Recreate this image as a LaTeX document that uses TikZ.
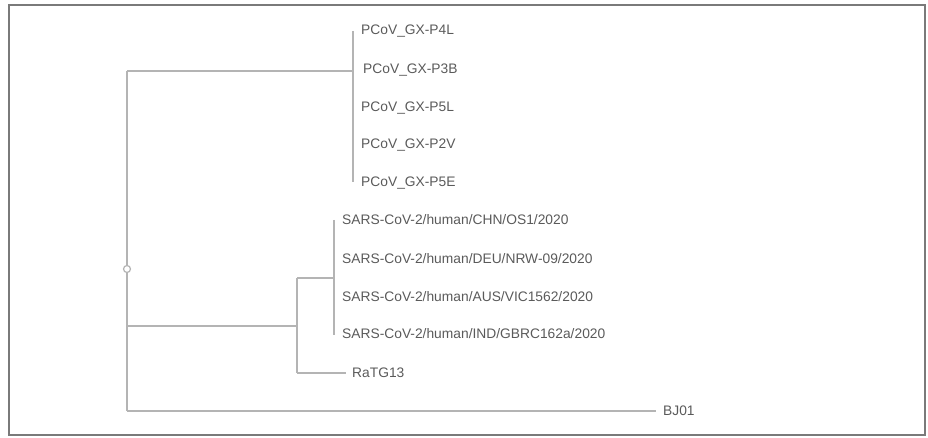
\documentclass[tikz,border=0pt]{standalone}
\usepackage{fontspec}
\setmainfont{Liberation Sans}
\definecolor{branch}{HTML}{B4B4B4}
\definecolor{txt}{HTML}{5A5A5A}
\definecolor{frame}{HTML}{7A7A7A}
\begin{document}
\begin{tikzpicture}[x=1pt,y=-1pt,
  br/.style={draw=branch,line width=1.3pt},
  leaf/.style={anchor=west,inner sep=0pt,text=txt,font=\fontsize{13.8}{15}\selectfont},
  rootdot/.style={circle,draw=branch,fill=white,line width=1.2pt,minimum size=7pt,inner sep=0pt}]
\useasboundingbox (0,0) rectangle (928,438);
\draw[frame,line width=2.2pt] (9,5) rectangle (925,435);
% coordinates
\coordinate (rtop) at (127,71);
\coordinate (rbot) at (127,411);
\coordinate (rsars) at (127,326);
\coordinate (pc) at (353,71);
\coordinate (pctop) at (353,31);
\coordinate (pcbot) at (353,182);
\coordinate (sr) at (297,326);
\coordinate (srtop) at (297,278);
\coordinate (srbot) at (297,373);
\coordinate (sc) at (334,278);
\coordinate (sctop) at (334,220);
\coordinate (scbot) at (334,335);
% leaves
\node[leaf] (p4l) at (361,31) {PCoV\_GX-P4L};
\node[leaf] (p3b) at (363,70) {PCoV\_GX-P3B};
\node[leaf] (p5l) at (361,108) {PCoV\_GX-P5L};
\node[leaf] (p2v) at (361,145) {PCoV\_GX-P2V};
\node[leaf] (p5e) at (361,183) {PCoV\_GX-P5E};
\node[leaf] (s1) at (342,220) {SARS-CoV-2/human/CHN/OS1/2020};
\node[leaf] (s2) at (342,259) {SARS-CoV-2/human/DEU/NRW-09/2020};
\node[leaf] (s3) at (342,297) {SARS-CoV-2/human/AUS/VIC1562/2020};
\node[leaf] (s4) at (342,334) {SARS-CoV-2/human/IND/GBRC162a/2020};
\node[leaf] (ratg) at (352,373) {RaTG13};
\node[leaf] (bj) at (663,411) {BJ01};
% branches
\draw[br] (rtop) -- (rbot);
\draw[br] (rtop) -- (pc);
\draw[br] (pctop) -- (pcbot);
\draw[br] (rsars) -- (sr);
\draw[br] (srtop) -- (srbot);
\draw[br] (srtop) -- (sc);
\draw[br] (sctop) -- (scbot);
\draw[br] (srbot) -- ([xshift=-6pt]ratg.west);
\draw[br] (rbot) -- ([xshift=-7pt]bj.west);
\node[rootdot] (root) at (127,269) {};
\end{tikzpicture}
\end{document}
